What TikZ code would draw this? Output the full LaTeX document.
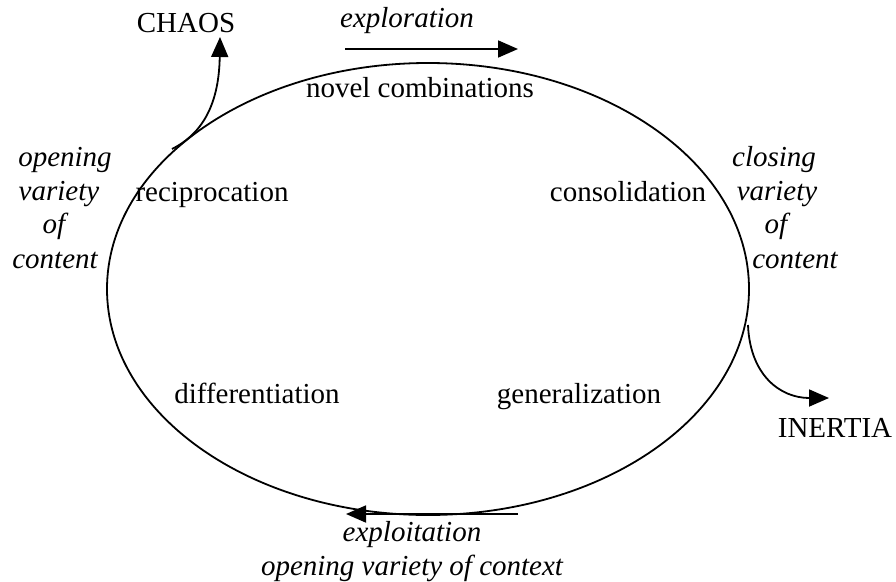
\documentclass[tikz,border=0pt]{standalone}
\usepackage{fontspec}
\setmainfont{Liberation Serif}
\usetikzlibrary{arrows.meta,shapes.geometric}
\begin{document}
\begin{tikzpicture}[x=1pt,y=-1pt,
  lbl/.style={font=\fontsize{29}{34}\selectfont, inner sep=0pt, anchor=base},
  itl/.style={font=\fontsize{29}{34}\selectfont\itshape, inner sep=0pt, anchor=base},
  arr/.style={line width=1.8pt, -{Triangle[length=20pt,width=17pt]}},
  cyclebox/.style={draw, ellipse, line width=1.8pt, minimum width=642pt, minimum height=452pt, inner sep=0pt}]
\useasboundingbox (0,0) rectangle (896,581);
\node[cyclebox] (cyc) at (428,289) {};
% labels
\node[lbl] (chaos) at (186,32) {CHAOS};
\node[itl] (explor) at (407,27) {exploration};
\node[lbl] (novel) at (420,97) {novel combinations};
\node[lbl] (recip) at (212,201) {reciprocation};
\node[lbl] (consol) at (628,201) {consolidation};
\node[lbl] (diff) at (257,403) {differentiation};
\node[lbl] (gener) at (579,403) {generalization};
\node[lbl] (inertia) at (835,437) {INERTIA};
\node[itl] (ol1) at (65,166) {opening};
\node[itl] (ol2) at (59,200) {variety};
\node[itl] (ol3) at (54,233) {of};
\node[itl] (ol4) at (55,268) {content};
\node[itl] (cl1) at (774,166) {closing};
\node[itl] (cl2) at (777,200) {variety};
\node[itl] (cl3) at (776,233) {of};
\node[itl] (cl4) at (795,268) {content};
\node[itl] (exploit) at (412,541) {exploitation};
\node[itl] (ovc) at (412,575) {opening variety of context};
% connectors
\coordinate (chaosstart) at (172,149);
\coordinate (chaostip) at (220,37);
\draw[arr] (chaosstart) .. controls (198,136) and (219,110) .. (chaostip);
\coordinate (inertstart) at (748,325);
\coordinate (inerttip) at (829,398);
\draw[arr] (inertstart) .. controls (750,375) and (780,398) .. (inerttip);
\coordinate (ex1) at (345,49);
\coordinate (ex2) at (518,49);
\draw[arr] (ex1) -- (ex2);
\coordinate (et1) at (518,514);
\coordinate (et2) at (346,514);
\draw[arr] (et1) -- (et2);
\end{tikzpicture}
\end{document}
